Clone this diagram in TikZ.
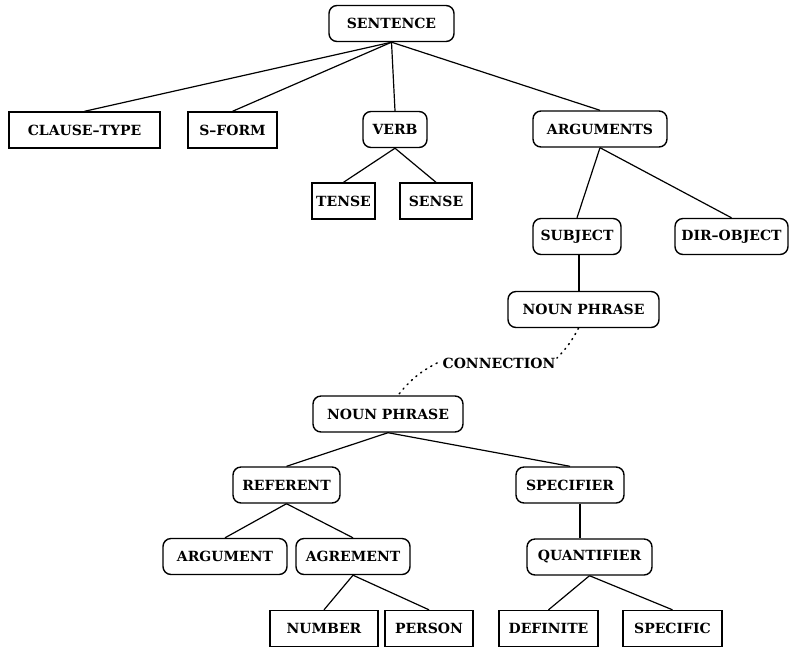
\documentclass[tikz,border=0pt]{standalone}
\usepackage{fontspec}
\setmainfont{DejaVu Serif}
\begin{document}
\begin{tikzpicture}[x=1pt, y=-1pt,
  font=\fontsize{14}{16}\selectfont\bfseries,
  leaf/.style={draw, line width=1.4pt, minimum height=36pt, inner xsep=4pt, minimum width=#1},
  inner/.style={leaf=#1, rounded corners=8pt},
  edge/.style={line width=1.2pt},
  link/.style={line width=1.5pt, dash pattern=on 1.2pt off 4.8pt, line cap=round}]
  \useasboundingbox (0, 0) rectangle (789, 649);
  % upper tree
  \node (sent) at (391.5, 23.5) [inner=125] {SENTENCE};
  \node (ctype) at (84.5, 130) [leaf=151] {CLAUSE–TYPE};
  \node (sform) at (232.5, 130) [leaf=89] {S–FORM};
  \node (verb) at (395, 129.5) [inner=64] {VERB};
  \node (tense) at (343.5, 201) [leaf=63] {TENSE};
  \node (sense) at (436, 201) [leaf=72] {SENSE};
  \node (args) at (600, 129) [inner=134] {ARGUMENTS};
  \node (subj) at (577, 236.5) [inner=88] {SUBJECT};
  \node (dobj) at (731.5, 236.5) [inner=113] {DIR–OBJECT};
  \node (npa) at (583.5, 309.5) [inner=151] {NOUN PHRASE};
  % lower tree
  \node (conn) at (499, 363) {CONNECTION};
  \node (npb) at (388, 414) [inner=150] {NOUN PHRASE};
  \node (ref) at (286.5, 485) [inner=107] {REFERENT};
  \node (spec) at (570, 485) [inner=108] {SPECIFIER};
  \node (arg) at (225, 556.5) [inner=124] {ARGUMENT};
  \node (agr) at (353, 556.5) [inner=114] {AGREMENT};
  \node (quant) at (589.5, 557) [inner=125] {QUANTIFIER};
  \node (num) at (324, 628.5) [leaf=108] {NUMBER};
  \node (pers) at (429, 628.5) [leaf=88] {PERSON};
  \node (def) at (548.5, 628.5) [leaf=99] {DEFINITE};
  \node (specif) at (672.5, 628.5) [leaf=99] {SPECIFIC};
  \foreach \a/\b in {sent/ctype, sent/sform, sent/verb, sent/args, verb/tense, verb/sense,
      args/subj, args/dobj, npb/ref, npb/spec, ref/arg, ref/agr,
      agr/num, agr/pers, quant/def, quant/specif} {
    \draw[edge] (\a.south) -- (\b.north);
  }
  \draw[edge] ([xshift=2]subj.south) -- ([xshift=2]subj.south |- npa.north);
  \draw[edge] ([xshift=10]spec.south) -- ([xshift=10]spec.south |- quant.north);
  \draw[link] ([xshift=-5]npa.south) to[bend left=8] ([xshift=-2, yshift=-4]conn.north east);
  \draw[link] ([xshift=-2]conn.west) to[bend right=12] ([xshift=10]npb.north);
\end{tikzpicture}
\end{document}
